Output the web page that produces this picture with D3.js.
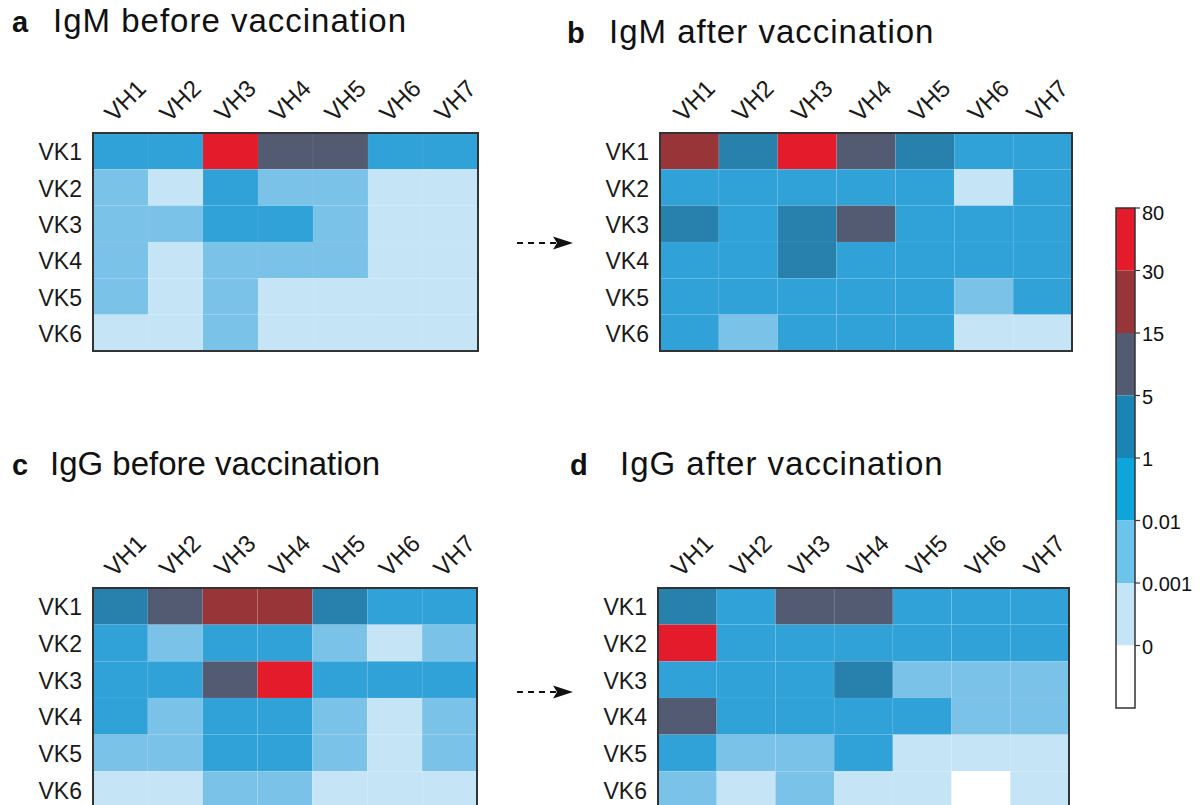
<!DOCTYPE html>
<html>
<head>
<meta charset="utf-8">
<script src="https://cdn.jsdelivr.net/npm/d3@7"></script>
<style>
  html, body { margin: 0; padding: 0; background: #fff; }
  svg { display: block; font-family: "Liberation Sans", Arial, sans-serif; }
</style>
</head>
<body>
<svg id="chart" width="1204" height="805"></svg>
<script>
// ---------- data ----------
const rowLabels = ["VK1", "VK2", "VK3", "VK4", "VK5", "VK6"];
const colLabels = ["VH1", "VH2", "VH3", "VH4", "VH5", "VH6", "VH7"];

// estimated frequencies (%), one row per VK, one column per VH
const igmBefore = [
  [0.2,    0.2,    50,     10,     10,     0.2,    0.2],
  [0.005,  0.0005, 0.2,    0.005,  0.005,  0.0005, 0.0005],
  [0.005,  0.005,  0.2,    0.2,    0.005,  0.0005, 0.0005],
  [0.005,  0.0005, 0.005,  0.005,  0.005,  0.0005, 0.0005],
  [0.005,  0.0005, 0.005,  0.0005, 0.0005, 0.0005, 0.0005],
  [0.0005, 0.0005, 0.005,  0.0005, 0.0005, 0.0005, 0.0005]
];
const igmAfter = [
  [20,     2,      50,     10,     2,      0.2,    0.2],
  [0.2,    0.2,    0.2,    0.2,    0.2,    0.0005, 0.2],
  [2,      0.2,    2,      10,     0.2,    0.2,    0.2],
  [0.2,    0.2,    2,      0.2,    0.2,    0.2,    0.2],
  [0.2,    0.2,    0.2,    0.2,    0.2,    0.005,  0.2],
  [0.2,    0.005,  0.2,    0.2,    0.2,    0.0005, 0.0005]
];
const iggBefore = [
  [2,      10,     20,     20,     2,      0.2,    0.2],
  [0.2,    0.005,  0.2,    0.2,    0.005,  0.0005, 0.005],
  [0.2,    0.2,    10,     50,     0.2,    0.2,    0.2],
  [0.2,    0.005,  0.2,    0.2,    0.005,  0.0005, 0.005],
  [0.005,  0.005,  0.2,    0.2,    0.005,  0.0005, 0.005],
  [0.0005, 0.0005, 0.005,  0.005,  0.0005, 0.0005, 0.0005]
];
const iggAfter = [
  [2,      0.2,    10,     10,     0.2,    0.2,    0.2],
  [50,     0.2,    0.2,    0.2,    0.2,    0.2,    0.2],
  [0.2,    0.2,    0.2,    2,      0.005,  0.005,  0.005],
  [10,     0.2,    0.2,    0.2,    0.2,    0.005,  0.005],
  [0.2,    0.005,  0.005,  0.2,    0.0005, 0.0005, 0.0005],
  [0.005,  0.0005, 0.005,  0.0005, 0.0005, 0,      0.0005]
];

const panelLetters = ["a", "b", "c", "d"];
const panelTitles = ["IgM before vaccination", "IgM after vaccination", "IgG before vaccination", "IgG after vaccination"];

const legendThresholds = [0.001, 0.01, 1, 5, 15, 30];
const legendTickLabels = ["80", "30", "15", "5", "1", "0.01", "0.001", "0"];

// ---------- styles ----------
const cellColors = ["#ffffff", "#c5e5f6", "#7ac2e8", "#30a2d8", "#2880ad", "#535b72", "#973538", "#e31b2b"];
const barColors  = ["#ffffff", "#c3e5f7", "#6dc4eb", "#0ea5da", "#1a84b5", "#535b72", "#973538", "#e31b2b"];

const binScale = d3.scaleThreshold().domain(legendThresholds).range([1, 2, 3, 4, 5, 6, 7]);
const binOf = v => (v <= 0 ? 0 : binScale(v));

const svg = d3.select("#chart");

const panels = [
  { data: igmBefore, x0: 93,  x1: 478,  y0: 133, y1: 351, tx: 12,  ty: 32,  ttx: 53,  ls: 1,   lblDx: -6 },
  { data: igmAfter,  x0: 660, x1: 1072, y0: 133, y1: 351, tx: 567, ty: 43,  ttx: 609, ls: 1,   lblDx: -6 },
  { data: iggBefore, x0: 93,  x1: 477,  y0: 588, y1: 808, tx: 12,  ty: 475, ttx: 50,  ls: 0,   lblDx: -6 },
  { data: iggAfter,  x0: 658, x1: 1069, y0: 588, y1: 808, tx: 570, ty: 475, ttx: 620, ls: 1,   lblDx: -6 }
];

panels.forEach((p, i) => {
  const g = svg.append("g");
  const x = d3.scaleBand().domain(colLabels).range([p.x0, p.x1]);
  const y = d3.scaleBand().domain(rowLabels).range([p.y0, p.y1]);

  const cells = [];
  p.data.forEach((row, r) => row.forEach((v, c) => cells.push({ r: rowLabels[r], c: colLabels[c], v })));

  g.selectAll("rect.cell").data(cells).enter().append("rect")
    .attr("class", "cell")
    .attr("x", d => x(d.c))
    .attr("y", d => y(d.r))
    .attr("width", x.bandwidth())
    .attr("height", y.bandwidth())
    .attr("fill", d => cellColors[binOf(d.v)])
    .attr("stroke", "rgba(255,255,255,0.05)")
    .attr("stroke-width", 1);

  g.append("rect")
    .attr("x", p.x0).attr("y", p.y0)
    .attr("width", p.x1 - p.x0).attr("height", p.y1 - p.y0)
    .attr("fill", "none").attr("stroke", "#333").attr("stroke-width", 2);

  // row labels
  g.selectAll("text.row").data(rowLabels).enter().append("text")
    .attr("x", p.x0 - 11)
    .attr("y", d => y(d) + y.bandwidth() / 2 + 1)
    .attr("text-anchor", "end")
    .attr("dominant-baseline", "central")
    .attr("font-size", 23)
    .attr("fill", "#1a1a1a")
    .text(d => d);

  // column labels
  g.selectAll("text.col").data(colLabels).enter().append("text")
    .attr("transform", d => `translate(${x(d) + x.bandwidth() / 2 + p.lblDx},${p.y0 - 10}) rotate(-45)`)
    .attr("text-anchor", "start")
    .attr("font-size", 24)
    .attr("fill", "#1a1a1a")
    .text(d => d);

  // titles
  g.append("text").attr("x", p.tx).attr("y", p.ty)
    .attr("font-size", 29).attr("font-weight", "bold").attr("fill", "#111")
    .text(panelLetters[i]);
  g.append("text").attr("x", p.ttx).attr("y", p.ty)
    .attr("font-size", 33).attr("letter-spacing", p.ls).attr("fill", "#111")
    .text(panelTitles[i]);
});

// arrows
[243, 692].forEach(ay => {
  svg.append("line").attr("x1", 517).attr("x2", 556).attr("y1", ay).attr("y2", ay)
    .attr("stroke", "#111").attr("stroke-width", 2).attr("stroke-dasharray", "6,5");
  svg.append("path")
    .attr("d", `M553,${ay - 6.5} L573,${ay} L553,${ay + 6.5} L557,${ay} Z`)
    .attr("fill", "#111");
});

// colour bar
const bins = d3.range(8).reverse();
const by = d3.scaleBand().domain(bins).range([208, 708]);
const cb = svg.append("g");
cb.selectAll("rect").data(bins).enter().append("rect")
  .attr("x", 1116).attr("width", 19)
  .attr("y", d => by(d)).attr("height", by.bandwidth())
  .attr("fill", d => barColors[d]);
cb.append("rect").attr("x", 1116).attr("y", 208).attr("width", 19).attr("height", 500)
  .attr("fill", "none").attr("stroke", "#333").attr("stroke-width", 1.5);
const ty = d3.scaleLinear().domain([0, 8]).range([208, 708]);
cb.selectAll("line.tick").data(legendTickLabels).enter().append("line")
  .attr("x1", 1135).attr("x2", 1140)
  .attr("y1", (d, i) => ty(i)).attr("y2", (d, i) => ty(i))
  .attr("stroke", "#333").attr("stroke-width", 1.2);
cb.selectAll("text").data(legendTickLabels).enter().append("text")
  .attr("x", 1142)
  .attr("y", (d, i) => ty(i) + (i === 0 ? 5 : 1))
  .attr("dominant-baseline", "central")
  .attr("font-size", 20)
  .attr("fill", "#111")
  .text(d => d);
</script>
</body>
</html>
